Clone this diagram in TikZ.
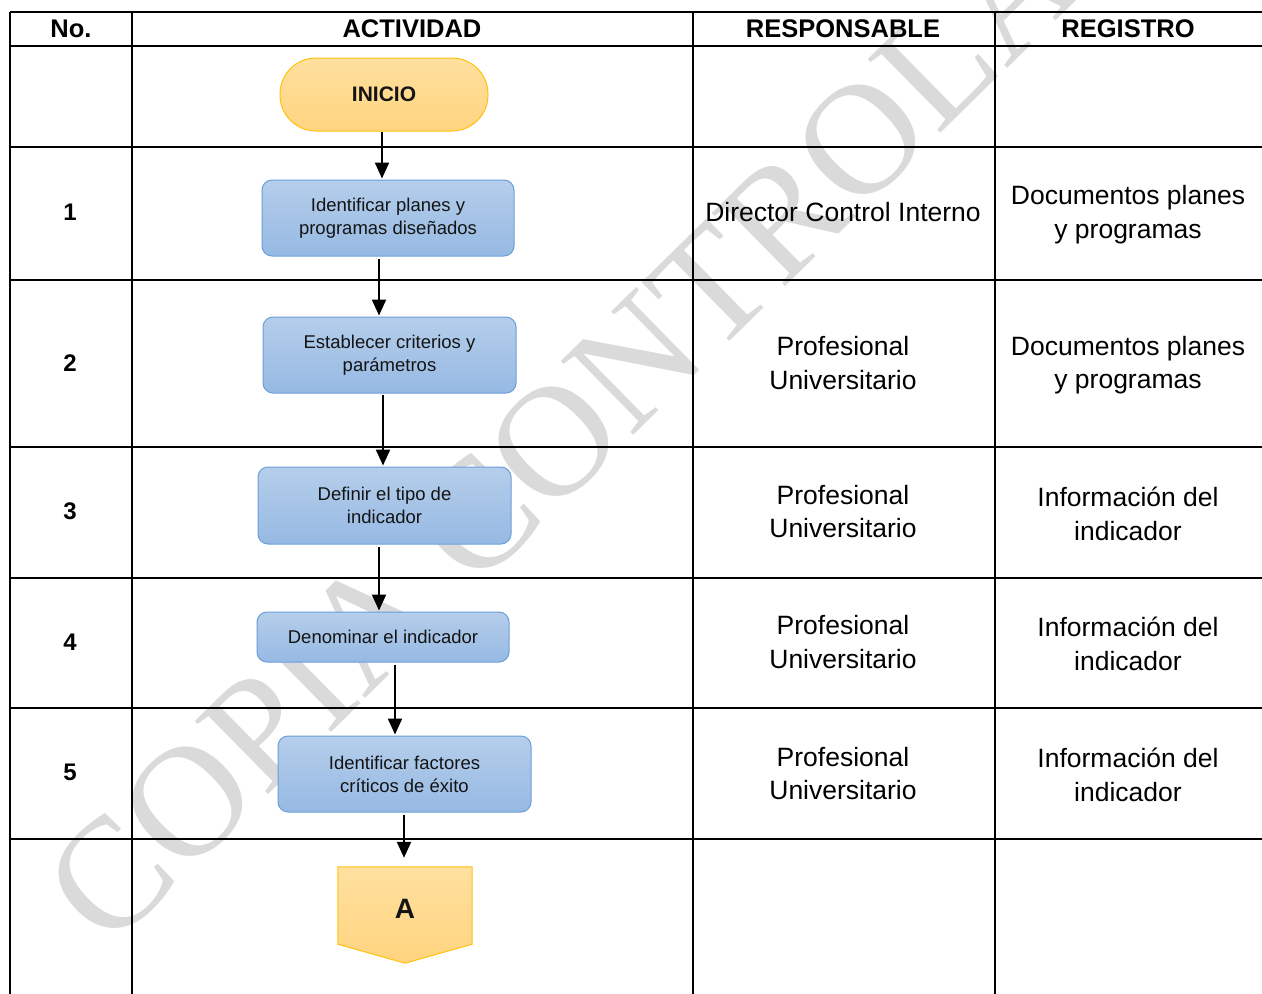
\documentclass[tikz,border=0pt]{standalone}
\usepackage{fontspec}
\setmainfont{Liberation Sans}
\newfontfamily\wmfont{Liberation Serif}
\usetikzlibrary{arrows.meta}
\definecolor{boxtop}{HTML}{B5CEEB}
\definecolor{boxbot}{HTML}{96B9E3}
\definecolor{boxline}{HTML}{6C9EDB}
\definecolor{yeltop}{HTML}{FFE09F}
\definecolor{yelbot}{HTML}{FFD47F}
\definecolor{yelline}{HTML}{FFC20E}
\definecolor{wmgray}{HTML}{DADADA}
\definecolor{txtdark}{HTML}{141414}
\tikzset{
  grid/.style={line width=2.6pt, black},
  head/.style={font=\bfseries\fontsize{25.5}{28}\selectfont, inner sep=0pt},
  num/.style={font=\bfseries\fontsize{24}{28}\selectfont, inner sep=0pt},
  cell/.style={font=\fontsize{26.5}{33.5}\selectfont, align=center, inner sep=0pt},
  procbox/.style={rectangle, rounded corners=10pt, draw=boxline, line width=1pt,
    top color=boxtop, bottom color=boxbot, align=center, text=txtdark,
    font=\fontsize{18.5}{23}\selectfont, inner sep=0pt},
  startbox/.style={rectangle, rounded corners=36pt, draw=yelline, line width=1pt,
    top color=yeltop, bottom color=yelbot, text=txtdark,
    font=\bfseries\fontsize{21}{24}\selectfont, inner sep=0pt,
    minimum width=208pt, minimum height=73pt},
  conn/.style={line width=2.2pt, -{Triangle[length=16pt,width=14pt]}, shorten >=1pt}
}
\begin{document}
\begin{tikzpicture}[x=1pt,y=-1pt]
\useasboundingbox (0,0) rectangle (1262,994);
\fill[white] (0,0) rectangle (1262,994);

% watermark
\node[rotate=44.5, anchor=base west, text=wmgray, font=\wmfont\fontsize{158}{158}\selectfont, inner sep=0pt]
  (wm) at (108,952) {COPIA CONTROLADA};

% table grid
\foreach \yy in {12,46,147,280,447,578,708,839}
  \draw[grid] (10,\yy) -- (1262,\yy);
\foreach \xx in {10,132,693,995}
  \draw[grid] (\xx,12) -- (\xx,994);

% headers
\node[head] (hno) at (71,28.5) {No.};
\node[head] (hact) at (412,28.5) {ACTIVIDAD};
\node[head] (hres) at (843,28.5) {RESPONSABLE};
\node[head] (hreg) at (1128,28.5) {REGISTRO};

% numbers
\node[num] (n1) at (70,212) {1};
\node[num] (n2) at (70,363) {2};
\node[num] (n3) at (70,511) {3};
\node[num] (n4) at (70,642) {4};
\node[num] (n5) at (70,772) {5};

% responsable
\node[cell] (r1) at (843,212) {Director Control Interno};
\node[cell] (r2) at (843,363) {Profesional\\Universitario};
\node[cell] (r3) at (843,511.5) {Profesional\\Universitario};
\node[cell] (r4) at (843,642) {Profesional\\Universitario};
\node[cell] (r5) at (843,773.5) {Profesional\\Universitario};

% registro
\node[cell] (g1) at (1128,214.5) {Documentos planes\\y programas};
\node[cell] (g2) at (1128,365) {Documentos planes\\y programas};
\node[cell] (g3) at (1128,514) {Información del\\indicador};
\node[cell] (g4) at (1128,644) {Información del\\indicador};
\node[cell] (g5) at (1128,775) {Información del\\indicador};

% flow
\node[startbox] (ini) at (384,94.5) {\raisebox{-2pt}{INICIO}};
\node[procbox, minimum width=252pt, minimum height=76pt] (b1) at (388,218) {Identificar planes y\\programas diseñados};
\node[procbox, minimum width=253pt, minimum height=76pt] (b2) at (389.5,355) {Establecer criterios y\\parámetros};
\node[procbox, minimum width=253pt, minimum height=77pt] (b3) at (384.5,505.5) {Definir el tipo de\\indicador};
\node[procbox, minimum width=252pt, minimum height=50pt] (b4) at (383,637) {Denominar el indicador};
\node[procbox, minimum width=253pt, minimum height=76pt] (b5) at (404.5,774) {Identificar factores\\críticos de éxito};

% off-page connector A
\node[minimum width=134pt, minimum height=96pt, inner sep=0pt] (conA) at (405,915) {};
\shade[top color=yeltop, bottom color=yelbot, draw=yelline, line width=1pt]
  (conA.north west) -- (conA.north east) -- ([yshift=19pt]conA.south east)
  -- (conA.south) -- ([yshift=19pt]conA.south west) -- cycle;
\node[font=\bfseries\fontsize{28}{30}\selectfont, text=txtdark, inner sep=0pt] (labA) at (405,908.5) {A};

% connectors
\draw[conn] ([xshift=-2pt]ini.south) -- ([xshift=-2pt]ini.south |- b1.north);
\draw[conn] ([xshift=-9pt,yshift=-2pt]b1.south) -- ([xshift=-9pt]b1.south |- b2.north);
\draw[conn] ([xshift=-6.5pt,yshift=-1pt]b2.south) -- ([xshift=-6.5pt]b2.south |- b3.north);
\draw[conn] ([xshift=-5.5pt,yshift=-2pt]b3.south) -- ([xshift=-5.5pt]b3.south |- b4.north);
\draw[conn] ([xshift=12pt,yshift=-2pt]b4.south) -- ([xshift=12pt]b4.south |- b5.north);
\draw[conn, shorten >=9pt] ([xshift=-0.5pt,yshift=-2pt]b5.south) -- ([xshift=-0.5pt]b5.south |- conA.north);
\end{tikzpicture}
\end{document}
